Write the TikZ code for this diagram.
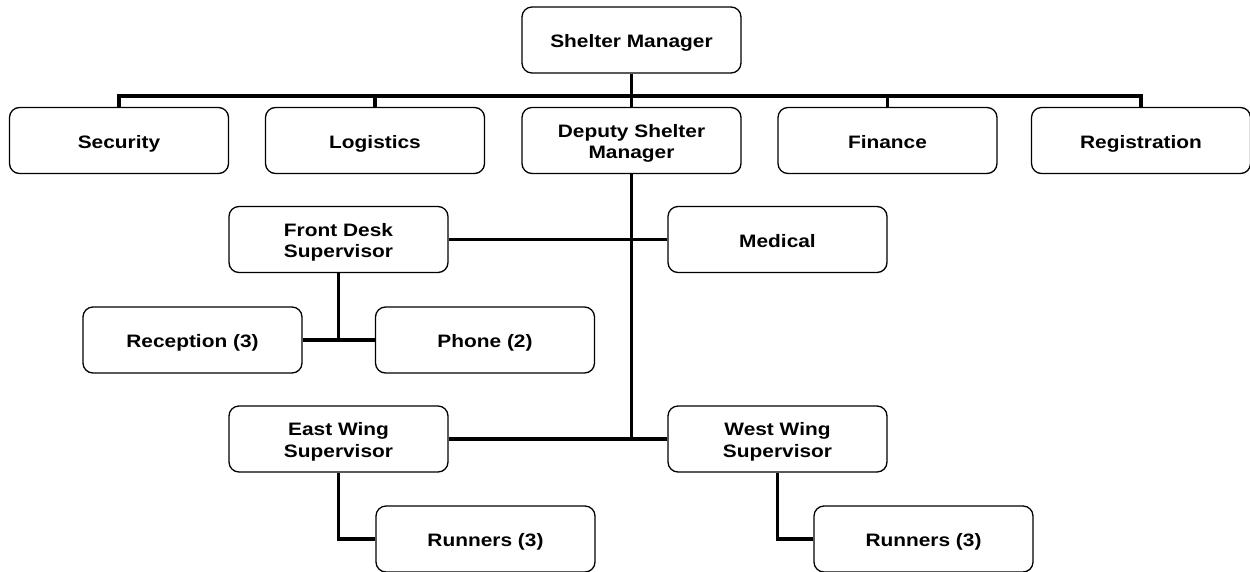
\documentclass[tikz,border=0pt]{standalone}
\usepackage{fontspec}
\newfontfamily\boxfont{Liberation Sans}[FakeStretch=1.16]
\begin{document}
\begin{tikzpicture}[x=1pt,y=-1pt,
  unit/.style={draw=black, line width=1.3pt, rounded corners=10pt,
    minimum width=219pt, minimum height=66pt, inner sep=0pt,
    align=center, text height=15pt, text depth=0pt,
    font=\boxfont\bfseries\fontsize{18}{21.6}\selectfont},
  unit2/.style={unit, text height=36.5pt},
  link/.style={line width=3.9pt, line cap=butt},
  thinlink/.style={line width=3.3pt, line cap=butt}]
\useasboundingbox (0,0) rectangle (1250,571);

% top level
\node[unit] (mgr) at (631.5,40) {Shelter Manager};

% second row
\node[unit] (sec) at (119,140.5) {Security};
\node[unit] (log) at (375,140.5) {Logistics};
\node[unit2] (dep) at (631.5,140.5) {Deputy Shelter\\Manager};
\node[unit] (fin) at (887.5,140.5) {Finance};
\node[unit] (reg) at (1141,140.5) {Registration};

% under the deputy
\node[unit2] (fd)  at (338.5,239.5) {Front Desk\\Supervisor};
\node[unit] (med) at (777.5,239.5) {Medical};
\node[unit] (rec) at (192.5,340) {Reception (3)};
\node[unit] (ph)  at (485,340) {Phone (2)};
\node[unit2] (ew)  at (338.5,439) {East Wing\\Supervisor};
\node[unit2] (ww)  at (777.5,439) {West Wing\\Supervisor};
\node[unit] (r1)  at (485.5,539) {Runners (3)};
\node[unit] (r2)  at (923.5,539) {Runners (3)};

% distribution bar below the manager
\coordinate (bar) at (631.5,96);
\draw[link] (mgr.south) -- (dep.north);
\draw[link] (sec.north) |- (bar) -| (reg.north);
\draw[link] (log.north) -- (log.north |- bar);
\draw[link] (fin.north) -- (fin.north |- bar);

% deputy's line of command
\draw[link] (dep.south) -- (dep.south |- ew.east);
\draw[thinlink] (fd.east) -- (med.west);
\draw[thinlink] (ew.east) -- (ww.west);

% front desk staff
\draw[link] (fd.south) -- (fd.south |- rec.east);
\draw[thinlink] (rec.east) -- (ph.west);

% runners
\draw[link] (ew.south) |- (r1.west);
\draw[link] (ww.south) |- (r2.west);
\end{tikzpicture}
\end{document}
